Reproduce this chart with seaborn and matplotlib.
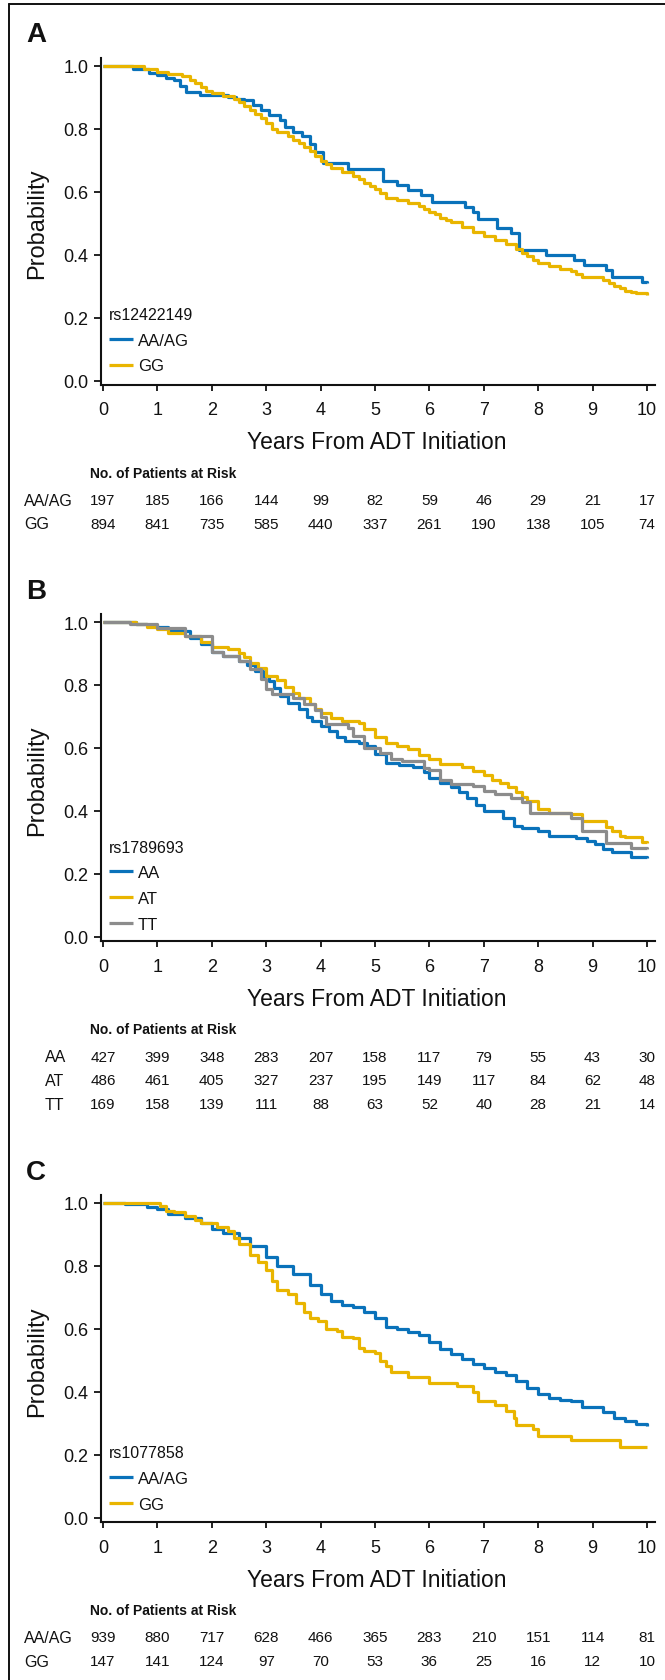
import numpy as np
import pandas as pd
import matplotlib
matplotlib.use("Agg")
import matplotlib.pyplot as plt
import seaborn as sns
from matplotlib.transforms import blended_transform_factory
from matplotlib.lines import Line2D

# ---------------- data ----------------
years = [0, 1, 2, 3, 4, 5, 6, 7, 8, 9, 10]
yticks = [0.0, 0.2, 0.4, 0.6, 0.8, 1.0]

# Panel A  rs12422149
A_AAAG_t = [0, 0.55, 0.85, 1.0, 1.15, 1.3, 1.42, 1.52, 1.78, 2.0, 2.3, 2.45, 2.6, 2.75, 2.9, 3.05,
            3.25, 3.35, 3.5, 3.65, 3.8, 3.9, 4.05, 4.5, 5.15, 5.4, 5.6, 5.85, 6.05, 6.65, 6.8, 6.9,
            7.25, 7.5, 7.65, 8.15, 8.65, 8.85, 9.25, 9.35, 9.9, 10.0]
A_AAAG_s = [1.0, 0.99, 0.975, 0.97, 0.96, 0.953, 0.935, 0.916, 0.906, 0.905, 0.9, 0.895, 0.89, 0.875, 0.86, 0.842,
            0.826, 0.805, 0.79, 0.775, 0.752, 0.726, 0.689, 0.672, 0.633, 0.62, 0.604, 0.59, 0.567, 0.551, 0.535, 0.514,
            0.483, 0.467, 0.414, 0.398, 0.382, 0.366, 0.35, 0.329, 0.313, 0.31]
A_GG_t = [0, 0.5, 0.75, 1.0, 1.2, 1.45, 1.6, 1.7, 1.8, 1.9, 2.0, 2.2, 2.4, 2.5, 2.6, 2.7, 2.8, 2.9, 3.0, 3.1,
          3.2, 3.4, 3.5, 3.6, 3.7, 3.8, 3.9, 4.0, 4.1, 4.2, 4.4, 4.6, 4.7, 4.8, 4.9, 5.0, 5.1, 5.2, 5.4, 5.6,
          5.8, 5.9, 6.0, 6.1, 6.2, 6.3, 6.4, 6.6, 6.8, 7.0, 7.2, 7.4, 7.6, 7.7, 7.8, 7.9, 8.0, 8.2, 8.4, 8.6,
          8.7, 8.8, 9.0, 9.2, 9.3, 9.4, 9.5, 9.6, 9.7, 9.8, 10.0]
A_GG_s = [1.0, 0.997, 0.99, 0.98, 0.972, 0.967, 0.955, 0.945, 0.932, 0.92, 0.912, 0.903, 0.893, 0.885, 0.872, 0.86, 0.845, 0.832, 0.818, 0.8,
          0.79, 0.775, 0.765, 0.755, 0.742, 0.728, 0.712, 0.697, 0.686, 0.675, 0.662, 0.65, 0.64, 0.628, 0.618, 0.607, 0.595, 0.58, 0.573, 0.564,
          0.553, 0.545, 0.535, 0.527, 0.517, 0.51, 0.503, 0.488, 0.472, 0.46, 0.446, 0.432, 0.418, 0.405, 0.395, 0.383, 0.372, 0.362, 0.355, 0.347,
          0.338, 0.33, 0.327, 0.318, 0.308, 0.3, 0.293, 0.285, 0.28, 0.277, 0.273]
A_risk_AAAG = [197, 185, 166, 144, 99, 82, 59, 46, 29, 21, 17]
A_risk_GG = [894, 841, 735, 585, 440, 337, 261, 190, 138, 105, 74]

# Panel B  rs1789693
B_AA_t = [0, 0.6, 0.8, 1.0, 1.2, 1.45, 1.6, 1.8, 2.0, 2.2, 2.5, 2.65, 2.8, 2.95, 3.05, 3.15, 3.25, 3.4, 3.6, 3.75,
          3.85, 4.0, 4.15, 4.3, 4.45, 4.7, 4.85, 5.0, 5.2, 5.45, 5.7, 5.9, 6.0, 6.2, 6.4, 6.55, 6.7, 6.85, 7.0, 7.35,
          7.55, 7.7, 8.0, 8.2, 8.7, 8.9, 9.05, 9.2, 9.35, 9.7, 10.0]
B_AA_s = [1.0, 0.995, 0.99, 0.985, 0.975, 0.97, 0.95, 0.93, 0.905, 0.893, 0.876, 0.862, 0.845, 0.83, 0.813, 0.79, 0.765, 0.744, 0.725, 0.70,
          0.685, 0.67, 0.655, 0.635, 0.622, 0.617, 0.605, 0.58, 0.553, 0.545, 0.54, 0.525, 0.506, 0.49, 0.475, 0.46, 0.44, 0.42, 0.40, 0.379,
          0.353, 0.345, 0.337, 0.32, 0.315, 0.305, 0.295, 0.28, 0.27, 0.255, 0.252]
B_AT_t = [0, 0.6, 0.8, 1.0, 1.2, 1.5, 1.8, 2.0, 2.3, 2.5, 2.6, 2.7, 2.85, 3.0, 3.2, 3.35, 3.5, 3.6, 3.8, 3.9,
          4.0, 4.2, 4.4, 4.7, 4.8, 5.0, 5.2, 5.4, 5.6, 5.8, 6.0, 6.2, 6.6, 6.8, 7.0, 7.15, 7.3, 7.45, 7.6, 7.7,
          7.8, 8.0, 8.2, 8.6, 8.8, 9.25, 9.35, 9.5, 9.6, 9.9, 10.0]
B_AT_s = [1.0, 0.995, 0.985, 0.977, 0.965, 0.955, 0.935, 0.922, 0.915, 0.903, 0.89, 0.871, 0.855, 0.83, 0.815, 0.795, 0.776, 0.76, 0.739, 0.725,
          0.712, 0.695, 0.686, 0.68, 0.66, 0.636, 0.617, 0.605, 0.596, 0.578, 0.564, 0.548, 0.54, 0.527, 0.515, 0.5, 0.49, 0.475, 0.46, 0.445,
          0.432, 0.405, 0.395, 0.39, 0.368, 0.35, 0.335, 0.321, 0.316, 0.303, 0.3]
B_TT_t = [0, 0.5, 1.0, 1.5, 2.0, 2.2, 2.5, 2.7, 2.9, 3.0, 3.1, 3.5, 3.7, 3.9, 4.0, 4.1, 4.5, 4.6, 4.8, 5.1,
          5.3, 5.5, 5.9, 6.0, 6.2, 6.4, 6.8, 7.0, 7.2, 7.5, 7.7, 7.85, 8.6, 8.8, 9.25, 9.7, 10.0]
B_TT_s = [1.0, 0.995, 0.98, 0.955, 0.905, 0.892, 0.875, 0.85, 0.82, 0.786, 0.77, 0.76, 0.74, 0.72, 0.70, 0.675, 0.665, 0.638, 0.601, 0.585,
          0.564, 0.56, 0.538, 0.53, 0.5, 0.485, 0.478, 0.463, 0.453, 0.442, 0.427, 0.393, 0.379, 0.336, 0.3, 0.283, 0.28]
B_risk_AA = [427, 399, 348, 283, 207, 158, 117, 79, 55, 43, 30]
B_risk_AT = [486, 461, 405, 327, 237, 195, 149, 117, 84, 62, 48]
B_risk_TT = [169, 158, 139, 111, 88, 63, 52, 40, 28, 21, 14]

# Panel C  rs1077858
C_AAAG_t = [0, 0.4, 0.8, 1.0, 1.2, 1.5, 1.8, 2.0, 2.2, 2.5, 2.7, 3.0, 3.2, 3.5, 3.8, 4.0, 4.2, 4.4, 4.6, 4.8,
            5.0, 5.2, 5.4, 5.6, 5.8, 6.0, 6.2, 6.4, 6.6, 6.8, 7.0, 7.2, 7.4, 7.6, 7.8, 8.0, 8.2, 8.4, 8.6, 8.8,
            9.0, 9.2, 9.4, 9.6, 9.8, 10.0]
C_AAAG_s = [1.0, 0.997, 0.988, 0.98, 0.965, 0.953, 0.935, 0.918, 0.906, 0.888, 0.862, 0.829, 0.8, 0.776, 0.741, 0.712, 0.688, 0.676, 0.67, 0.653,
            0.635, 0.606, 0.6, 0.591, 0.582, 0.559, 0.535, 0.522, 0.506, 0.488, 0.476, 0.465, 0.453, 0.435, 0.412, 0.394, 0.382, 0.376, 0.37, 0.353,
            0.351, 0.335, 0.318, 0.308, 0.3, 0.292]
C_GG_t = [0, 1.05, 1.15, 1.3, 1.5, 1.7, 1.8, 2.1, 2.3, 2.4, 2.5, 2.7, 2.85, 3.0, 3.1, 3.2, 3.4, 3.55, 3.7, 3.8,
          3.95, 4.1, 4.3, 4.4, 4.6, 4.7, 4.8, 5.0, 5.1, 5.2, 5.3, 5.6, 6.0, 6.5, 6.8, 6.9, 7.2, 7.4, 7.55, 7.6,
          7.9, 8.0, 8.6, 9.5, 10.0]
C_GG_s = [1.0, 0.99, 0.976, 0.97, 0.96, 0.947, 0.935, 0.924, 0.912, 0.888, 0.871, 0.835, 0.812, 0.788, 0.753, 0.724, 0.712, 0.682, 0.653, 0.635,
          0.624, 0.6, 0.594, 0.576, 0.571, 0.541, 0.529, 0.524, 0.5, 0.482, 0.465, 0.447, 0.429, 0.418, 0.4, 0.371, 0.359, 0.341, 0.318, 0.296,
          0.282, 0.261, 0.247, 0.224, 0.224]
C_risk_AAAG = [939, 880, 717, 628, 466, 365, 283, 210, 151, 114, 81]
C_risk_GG = [147, 141, 124, 97, 70, 53, 36, 25, 16, 12, 10]

BLUE, YELLOW, GRAY = "#0a72ba", "#e9b500", "#8c8c8c"

panels = [
    dict(letter="A", T=66.5, snp="rs12422149", groups=["AA/AG", "GG"],
         curves=[(A_AAAG_t, A_AAAG_s), (A_GG_t, A_GG_s)], colors=[BLUE, YELLOW],
         risk=[A_risk_AAAG, A_risk_GG], title_y=0.204, rowlab_x=24),
    dict(letter="B", T=623.0, snp="rs1789693", groups=["AA", "AT", "TT"],
         curves=[(B_AA_t, B_AA_s), (B_AT_t, B_AT_s), (B_TT_t, B_TT_s)], colors=[BLUE, YELLOW, GRAY],
         risk=[B_risk_AA, B_risk_AT, B_risk_TT], title_y=0.28, rowlab_x=45),
    dict(letter="C", T=1204.0, snp="rs1077858", groups=["AA/AG", "GG"],
         curves=[(C_AAAG_t, C_AAAG_s), (C_GG_t, C_GG_s)], colors=[BLUE, YELLOW],
         risk=[C_risk_AAAG, C_risk_GG], title_y=0.202, rowlab_x=24),
]

# ---------------- style ----------------
sns.set_theme(style="white")
plt.rcParams["font.family"] = ["Liberation Sans", "DejaVu Sans"]
plt.rcParams["axes.edgecolor"] = "#111111"

W, H = 665, 1681
fig = plt.figure(figsize=(W / 100, H / 100), dpi=100)
fig.patch.set_facecolor("white")

AX_L, AX_R = 101, 655
PX_UNIT = 315.0          # pixels per probability unit
AX_H = 327.0
LEG_FS = 12
LEG_PAD = 0.63

for p in panels:
    T = p["T"]
    bottom_px = T + 319
    ax = fig.add_axes([AX_L / W, 1 - bottom_px / H, (AX_R - AX_L) / W, AX_H / H])
    frames = []
    for g, (t, s) in zip(p["groups"], p["curves"]):
        assert len(t) == len(s), (g, len(t), len(s))
        frames.append(pd.DataFrame({"time": t, "surv": s, "group": g}))
    df = pd.concat(frames, ignore_index=True)
    sns.lineplot(data=df, x="time", y="surv", hue="group", hue_order=p["groups"],
                 palette=p["colors"], drawstyle="steps-post", estimator=None,
                 legend=False, lw=2.3, ax=ax, solid_capstyle="butt")

    ax.set_xlim(-0.037, 10.147)
    ax.set_ylim(-4 / PX_UNIT, 1 + 8 / PX_UNIT)
    ax.set_xticks(years)
    ax.set_xticklabels([str(v) for v in years])
    ax.set_yticks(yticks)
    ax.set_yticklabels([f"{v:.1f}" for v in yticks])
    for side in ["top", "right"]:
        ax.spines[side].set_visible(False)
    for side in ["left", "bottom"]:
        ax.spines[side].set_linewidth(1.5)
        ax.spines[side].set_color("#111111")
    ax.tick_params(axis="x", which="both", bottom=True, length=4, width=1.3, color="#111111",
                   labelsize=13, pad=8, direction="out", labelcolor="#111111")
    ax.tick_params(axis="y", which="both", left=True, length=5, width=1.3, color="#111111",
                   labelsize=13, pad=4, direction="out", labelcolor="#111111")
    ax.grid(False)

    ax.set_xlabel("Years From ADT Initiation", fontsize=16.5, color="#111111")
    ax.xaxis.label.set_va("center")
    ax.xaxis.set_label_coords((377 - AX_L) / (AX_R - AX_L), (319 - 376.5) / AX_H)
    ax.set_ylabel("Probability", fontsize=17, color="#111111")
    ax.yaxis.label.set_va("center")
    ax.yaxis.set_label_coords((37.5 - AX_L) / (AX_R - AX_L), (319 - 157.5) / AX_H)

    # legend
    handles = ax.get_lines()[: len(p["groups"])]
    pad_px = LEG_PAD * LEG_FS * 100 / 72
    leg_top_px = (1 - p["title_y"]) * PX_UNIT - 9.2 - pad_px
    leg = ax.legend(handles, p["groups"], title=p["snp"], loc="upper left",
                    bbox_to_anchor=((108.5 - pad_px - AX_L) / (AX_R - AX_L), (319 - leg_top_px) / AX_H),
                    frameon=False, fontsize=LEG_FS, title_fontsize=11.5, handlelength=1.45,
                    handletextpad=0.3, labelspacing=0.64, borderpad=LEG_PAD, borderaxespad=0,
                    alignment="left")
    for txt in leg.get_texts():
        txt.set_color("#111111")
    leg.get_title().set_color("#111111")

    # panel letter
    fig.text(26 / W, 1 - (T - 31) / H, p["letter"], fontsize=20, fontweight="bold",
             ha="left", va="center", color="#111111")

    # risk table
    trans = blended_transform_factory(ax.transData, ax.transAxes)
    fig.text(90 / W, 1 - (T + 407.5) / H, "No. of Patients at Risk", fontsize=10,
             fontweight="bold", ha="left", va="center", color="#111111")
    for i, (g, row) in enumerate(zip(p["groups"], p["risk"])):
        yrow = T + 434.5 + 24 * i
        fig.text(p["rowlab_x"] / W, 1 - yrow / H, g, fontsize=11.5, ha="left", va="center",
                 color="#111111")
        for x, n in zip(years, row):
            ax.text(x, (319 - (yrow - T)) / AX_H, str(n), transform=trans, fontsize=11,
                    ha="center", va="center", color="#111111", clip_on=False)

# outer frame (top and left edges)
fig.add_artist(Line2D([8.5 / W, 8.5 / W], [0, 1 - 5 / H], transform=fig.transFigure,
                      color="#111111", lw=1.4))
fig.add_artist(Line2D([8.5 / W, 1], [1 - 5 / H, 1 - 5 / H], transform=fig.transFigure,
                      color="#111111", lw=1.4))

fig.savefig("out.png", dpi=100, facecolor="white")
